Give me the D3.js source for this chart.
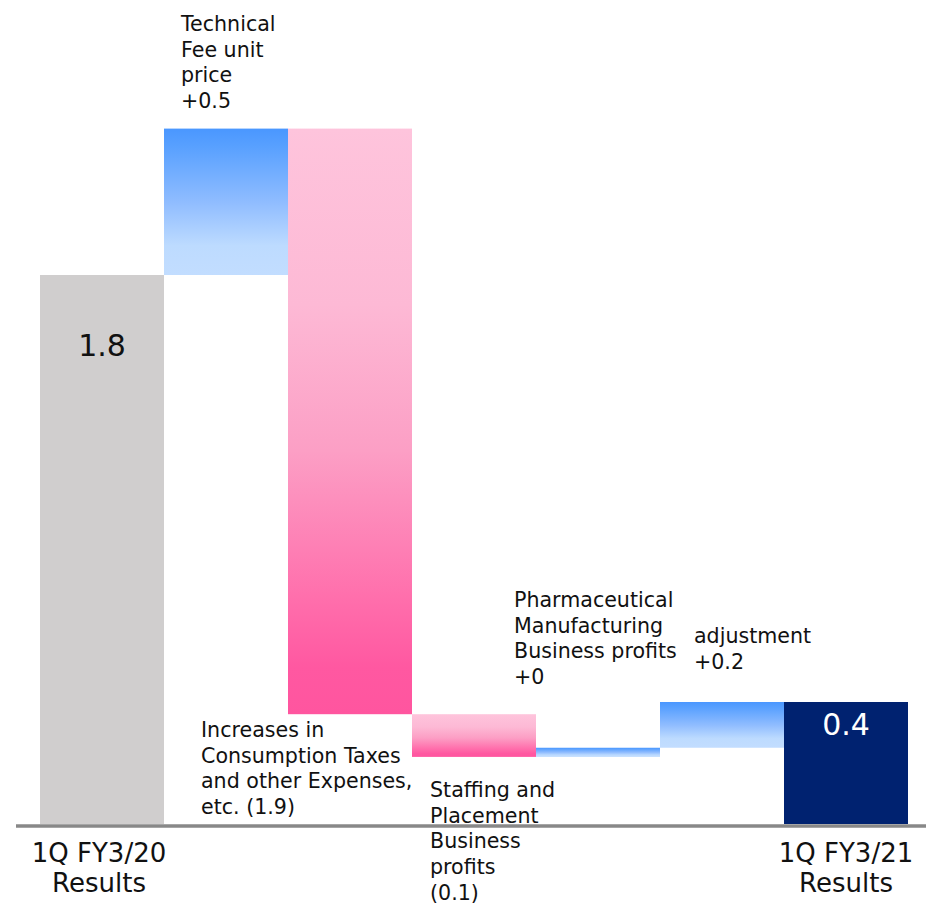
<!DOCTYPE html>
<html>
<head>
<meta charset="utf-8">
<script src="https://cdn.jsdelivr.net/npm/d3@7"></script>
<style>
  html, body { margin: 0; padding: 0; background: #fff; }
  svg { display: block; font-family: "DejaVu Sans", Verdana, sans-serif; }
</style>
</head>
<body>
<svg id="chart" width="926" height="906"></svg>
<script>
// Operating profit bridge, 1Q FY3/20 -> 1Q FY3/21
const steps = ["start", "fee", "expenses", "staffing", "pharma", "adjust", "end"];
const startValue = 1.8;
const endValue = 0.4;
const deltas = [0.48, -1.92, -0.14, 0.03, 0.15];
const totalLabels = ["1.8", "0.4"];
const categoryLabels = [["1Q FY3/20", "Results"], ["1Q FY3/21", "Results"]];
const deltaLabels = [
  ["Technical", "Fee unit", "price", "+0.5"],
  ["Increases in", "Consumption Taxes", "and other Expenses,", "etc. (1.9)"],
  ["Staffing and", "Placement", "Business", "profits", "(0.1)"],
  ["Pharmaceutical", "Manufacturing", "Business profits", "+0"],
  ["adjustment", "+0.2"]
];

const svg = d3.select("#chart");

const x = d3.scaleBand().domain(steps).range([40, 908]).padding(0);
const y = d3.scaleLinear().domain([0, 1.8]).range([824, 275]);

// gradients
const defs = svg.append("defs");
function gradient(id, stops) {
  const g = defs.append("linearGradient").attr("id", id)
    .attr("x1", 0).attr("y1", 0).attr("x2", 0).attr("y2", 1);
  stops.forEach(([o, c]) => g.append("stop").attr("offset", o).attr("stop-color", c));
}
gradient("gradUp", [[0, "#4a97ff"], [0.12, "#58a0ff"], [0.5, "#8fbcff"], [0.8, "#bddbff"], [1, "#c2ddff"]]);
gradient("gradDown", [[0, "#fec4dc"], [0.3, "#fdb9d5"], [0.55, "#fc9fc5"], [0.8, "#ff6fac"], [0.92, "#ff58a1"], [1, "#ff559f"]]);

// running totals for the floating bars
const bars = [];
bars.push({ key: "start", y0: 0, y1: startValue, type: "start" });
let level = startValue;
deltas.forEach((d, i) => {
  const next = level + d;
  bars.push({ key: steps[i + 1], y0: Math.min(level, next), y1: Math.max(level, next), type: d >= 0 ? "up" : "down" });
  level = next;
});
bars.push({ key: "end", y0: 0, y1: endValue, type: "end" });

const fills = { start: "#d0cece", end: "#002270", up: "url(#gradUp)", down: "url(#gradDown)" };

svg.append("g").selectAll("rect").data(bars).join("rect")
  .attr("x", d => x(d.key))
  .attr("width", x.bandwidth())
  .attr("y", d => y(d.y1))
  .attr("height", d => y(d.y0) - y(d.y1))
  .attr("fill", d => fills[d.type]);

// baseline
svg.append("line")
  .attr("x1", 16).attr("x2", 926)
  .attr("y1", y(0) + 2).attr("y2", y(0) + 2)
  .attr("stroke", "#888888").attr("stroke-width", 3.5);

// values inside the total bars
const totals = [{ key: "start", v: startValue, t: totalLabels[0], color: "#111" },
                { key: "end", v: endValue, t: totalLabels[1], color: "#fff" }];
svg.append("g").selectAll("text").data(totals).join("text")
  .attr("x", d => x(d.key) + x.bandwidth() / 2)
  .attr("y", (d, i) => i === 0 ? 356 : 735)
  .attr("text-anchor", "middle")
  .attr("font-size", 30)
  .attr("fill", d => d.color)
  .text(d => d.t);

// category labels under the axis
const catKeys = ["start", "end"];
categoryLabels.forEach((lines, i) => {
  const cx = x(catKeys[i]) + x.bandwidth() / 2 - (i === 0 ? 3 : 0);
  const t = svg.append("text")
    .attr("x", cx)
    .attr("y", 862)
    .attr("text-anchor", "middle")
    .attr("font-size", 26)
    .attr("fill", "#111");
  lines.forEach((l, j) => t.append("tspan")
    .attr("x", cx)
    .attr("dy", j === 0 ? 0 : 30).text(l));
});

// annotation labels for each change
const annotPos = [
  { dx: 17, y: 31 },
  { dx: -87, y: 737 },
  { dx: 18, y: 797 },
  { dx: -22, y: 607 },
  { dx: 34, y: 643 }
];
deltaLabels.forEach((lines, i) => {
  const key = steps[i + 1];
  const px = x(key) + annotPos[i].dx;
  const t = svg.append("text")
    .attr("x", px).attr("y", annotPos[i].y)
    .attr("font-size", 20.6).attr("fill", "#111");
  lines.forEach((l, j) => t.append("tspan")
    .attr("x", px).attr("dy", j === 0 ? 0 : 25.7).text(l));
});
</script>
</body>
</html>
